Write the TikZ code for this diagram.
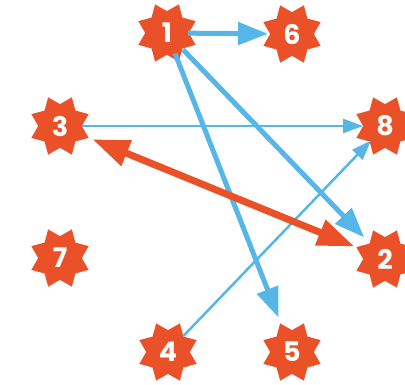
\documentclass[tikz,border=0pt]{standalone}
\usepackage{fontspec}
\setmainfont{Poppins}
\usetikzlibrary{shapes.geometric,arrows.meta}
\definecolor{starred}{HTML}{EB5128}
\definecolor{arrowblue}{HTML}{56B6E8}
\begin{document}
\begin{tikzpicture}[x=1pt,y=-1pt,
  starnode/.style={star, star points=8, star point ratio=1.42, shape border rotate=22.5,
    minimum size=62pt, inner sep=0pt, fill=starred, text=white,
    font=\fontsize{27}{27}\selectfont\bfseries},
  thickblue/.style={draw=arrowblue, line width=5pt, -{Triangle[length=30pt,width=22pt]}},
  thinblue/.style={draw=arrowblue, line width=2.5pt, -{Triangle[length=20pt,width=14pt]}},
  redarrow/.style={draw=starred, line width=7pt,
    {Triangle[length=37pt,width=26pt]}-{Triangle[length=37pt,width=26pt]}},
]
\useasboundingbox (0,0) rectangle (405,384);
\node[starnode] (n1) at (167,33) {1};
\node[starnode] (n6) at (292,34) {6};
\node[starnode] (n3) at (60,126) {3};
\node[starnode] (n8) at (385,126) {8};
\node[starnode] (n7) at (60,258) {7};
\node[starnode] (n2) at (385,259) {2};
\node[starnode] (n4) at (168,352) {4};
\node[starnode] (n5) at (292,352) {5};

\draw[thickblue, shorten <=21pt, shorten >=24pt] (n1.center) -- (n6.center);
\draw[thickblue, shorten <=23pt, shorten >=30pt] (n1.center) -- (n2.center);
\draw[thickblue, shorten <=22pt, shorten >=37pt] (n1.center) -- (n5.center);
\draw[thinblue, shorten <=22pt, shorten >=22pt] (n3.center) -- (n8.center);
\draw[thinblue, shorten <=22pt, shorten >=20pt] (n4.center) -- (n8.center);
\draw[redarrow, shorten <=35pt, shorten >=33pt] (n3.center) -- (n2.center);
\end{tikzpicture}
\end{document}
